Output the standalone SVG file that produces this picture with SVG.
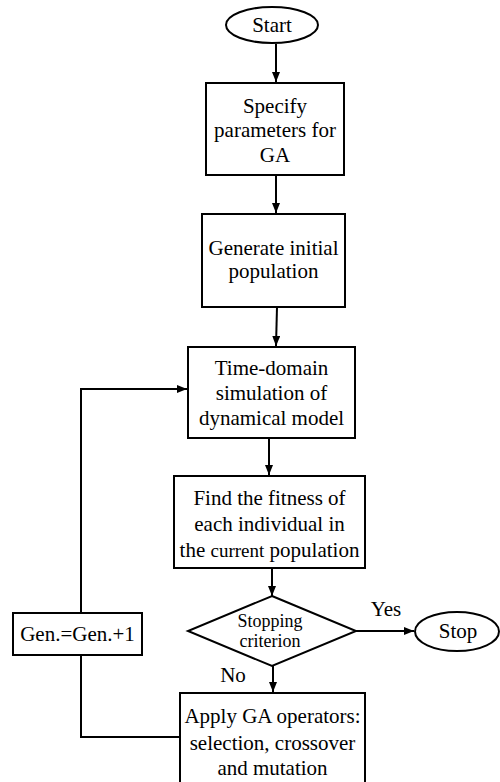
<svg xmlns="http://www.w3.org/2000/svg" width="500" height="782" viewBox="0 0 500 782">
<style>
.s{fill:#fff;stroke:#000;stroke-width:2}
.t{font-family:'Liberation Serif','Times New Roman',serif;font-size:21px;fill:#000;text-anchor:middle}
.sm{font-size:18px}
.c{fill:none;stroke:#000;stroke-width:2}
</style>
<defs>
<marker id="ah" viewBox="0 0 10 8" refX="10" refY="4" markerWidth="10" markerHeight="8" markerUnits="userSpaceOnUse" orient="auto">
<path d="M0,0 L10,4 L0,8 Z" fill="#000"/>
</marker>
</defs>
<rect width="500" height="782" fill="#fff"/>
<g id="connectors">
<line class="c" x1="276" y1="44" x2="276" y2="82" marker-end="url(#ah)"/>
<line class="c" x1="276" y1="175" x2="276" y2="213" marker-end="url(#ah)"/>
<line class="c" x1="277" y1="307" x2="276" y2="346" marker-end="url(#ah)"/>
<line class="c" x1="269" y1="438" x2="269" y2="475" marker-end="url(#ah)"/>
<line class="c" x1="272" y1="568" x2="272" y2="596" marker-end="url(#ah)"/>
<line class="c" x1="273" y1="666" x2="273" y2="692" marker-end="url(#ah)"/>
<line class="c" x1="356" y1="631" x2="414" y2="631" marker-end="url(#ah)"/>
<polyline class="c" points="180,737 81,737 81,655"/>
<polyline class="c" points="81,613 81,389 187,389" marker-end="url(#ah)"/>
<text class="t" x="386" y="616">Yes</text>
<text class="t" x="233" y="682">No</text>
</g>
<g id="start">
<ellipse class="s" cx="272" cy="25" rx="46" ry="18"/>
<text class="t" x="272" y="32">Start</text>
</g>
<g id="specify">
<rect class="s" x="206" y="83" width="138" height="92"/>
<text class="t" x="275" y="113">Specify</text>
<text class="t" x="275" y="137">parameters for</text>
<text class="t" x="275" y="162">GA</text>
</g>
<g id="generate">
<rect class="s" x="202" y="214" width="143" height="93"/>
<text class="t" x="273.5" y="255">Generate initial</text>
<text class="t" x="273.5" y="278">population</text>
</g>
<g id="simulate">
<rect class="s" x="188" y="347" width="167" height="91"/>
<text class="t" x="271.5" y="375">Time-domain</text>
<text class="t" x="271.5" y="400">simulation of</text>
<text class="t" x="271.5" y="425">dynamical model</text>
</g>
<g id="fitness">
<rect class="s" x="174" y="476" width="191" height="92"/>
<text class="t" x="269.5" y="505">Find the fitness of</text>
<text class="t" x="269.5" y="531">each individual in</text>
<text class="t" x="269.5" y="557">the <tspan font-size="19">current</tspan> population</text>
</g>
<g id="decision">
<polygon class="s" points="272,596 356,631 272,666 188,631"/>
<text class="t sm" x="270" y="627">Stopping</text>
<text class="t sm" x="270" y="647">criterion</text>
</g>
<g id="stop">
<ellipse class="s" cx="457" cy="631.5" rx="42" ry="19.5"/>
<text class="t" x="458" y="638">Stop</text>
</g>
<g id="gen">
<rect class="s" x="13" y="613" width="129" height="42"/>
<text class="t" x="77.5" y="641">Gen.=Gen.+1</text>
</g>
<g id="operators">
<rect class="s" x="180" y="693" width="185" height="95"/>
<text class="t" x="272.5" y="723">Apply GA operators:</text>
<text class="t" x="272.5" y="750">selection, crossover</text>
<text class="t" x="272.5" y="775">and mutation</text>
</g>
</svg>
